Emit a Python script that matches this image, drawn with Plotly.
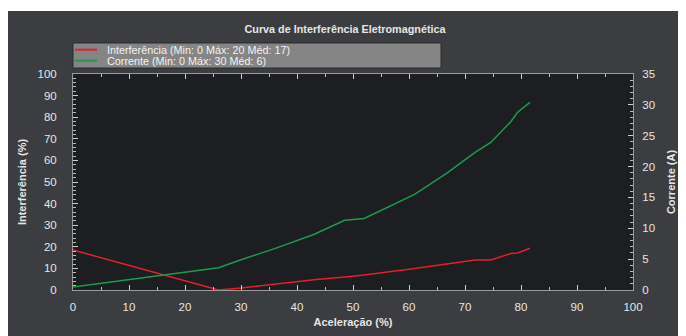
import plotly.graph_objects as go

aceleracao = [0, 16, 26, 30, 36, 43, 48.5, 52, 61, 66.7, 71.8, 74.6, 78.2, 79.4, 81.6]
interferencia = [18.5, 7.1, 0, 0.9, 2.6, 4.8, 6.0, 6.9, 10.0, 11.9, 13.9, 13.9, 16.9, 17.1, 19.3]
corrente = [0.5, 2.4, 3.6, 4.9, 6.7, 9.0, 11.3, 11.6, 15.5, 18.9, 22.3, 23.9, 27.3, 28.8, 30.4]

nome_interf = "Interferência (Min: 0 Máx: 20 Méd: 17)"
nome_corr = "Corrente (Min: 0 Máx: 30 Méd: 6)"
cor_interf = "#e3202b"
cor_corr = "#1f9a4c"

# the page has an 8px body margin: figure coords = page coords - 8
W, H = 686, 336
OFF = 8
L, T = 73 - OFF, 74 - OFF
R, B = W - (633 - OFF), H - (290 - OFF)
pw, ph = W - L - R, H - T - B

def px(x):  # page x -> paper fraction
    return (x - OFF - L) / pw

def py(y):  # page y -> paper fraction
    return (H - B - (y - OFF)) / ph

FONT = "Liberation Sans, Arial"
TXT = "#e6e6e6"

fig = go.Figure()
fig.add_trace(go.Scatter(x=aceleracao, y=interferencia, mode="lines", name=nome_interf,
                         line=dict(color=cor_interf, width=1.5), showlegend=False))
fig.add_trace(go.Scatter(x=aceleracao, y=corrente, mode="lines", name=nome_corr, yaxis="y2",
                         line=dict(color=cor_corr, width=1.5), showlegend=False))

shapes = [
    dict(type="rect", xref="paper", yref="paper", x0=px(0), x1=px(W + 20), y0=py(11), y1=py(0),
         fillcolor="white", line=dict(width=0), layer="below"),
    dict(type="rect", xref="paper", yref="paper", x0=px(73), x1=px(441), y0=py(43), y1=py(68),
         fillcolor="#858585", line=dict(color="#2a2a2a", width=1), layer="below"),
]
annotations = []
for i, (nome, cor) in enumerate([(nome_interf, cor_interf), (nome_corr, cor_corr)]):
    yy = 49.7 + 11 * i
    shapes.append(dict(type="line", xref="paper", yref="paper", x0=px(75), x1=px(97),
                       y0=py(yy), y1=py(yy), line=dict(color=cor, width=2)))
    annotations.append(dict(text=nome, xref="paper", yref="paper", x=px(105), y=py(yy),
                            xanchor="left", yanchor="middle", showarrow=False,
                            font=dict(family=FONT, size=10.8, color="#f2f2f2")))

tick_font = dict(family=FONT, size=11.5, color=TXT)
title_font = dict(family=FONT, size=11, color=TXT)
axis_common = dict(showgrid=False, zeroline=False, showline=True, linecolor="#9a9a9a", linewidth=1,
                   ticks="inside", tickcolor="#cfcfcf", ticklen=5, automargin=False,
                   tickfont=tick_font)

fig.update_layout(
    width=W, height=H,
    margin=dict(l=L, r=R, t=T, b=B, autoexpand=False),
    paper_bgcolor="#3b3d40", plot_bgcolor="#1c1e21",
    shapes=shapes, annotations=annotations,
    title=dict(text="<b>Curva de Interferência Eletromagnética</b>", x=(345 - OFF) / W, xref="container",
               xanchor="center", y=1 - (29 - OFF) / H, yanchor="middle",
               font=dict(family=FONT, size=10.8, color=TXT)),
    xaxis=dict(range=[0, 100], dtick=10, mirror="ticks",
               minor=dict(dtick=5, ticks="inside", ticklen=3, tickcolor="#bbbbbb"),
               title=dict(text="<b>Aceleração (%)</b>", font=title_font, standoff=6),
               ticklabelstandoff=6, **axis_common),
    yaxis=dict(range=[0, 100], dtick=10,
               minor=dict(dtick=2, ticks="inside", ticklen=3, tickcolor="#bbbbbb"),
               title=dict(text="<b>Interferência (%)</b>", font=title_font, standoff=8),
               ticklabelstandoff=13, **axis_common),
    yaxis2=dict(range=[0, 35], dtick=5, overlaying="y", side="right",
                minor=dict(dtick=1, ticks="inside", ticklen=3, tickcolor="#bbbbbb"),
                title=dict(text="<b>Corrente (A)</b>", font=title_font, standoff=13),
                ticklabelstandoff=6, **axis_common),
)

fig.write_html("out.html")
